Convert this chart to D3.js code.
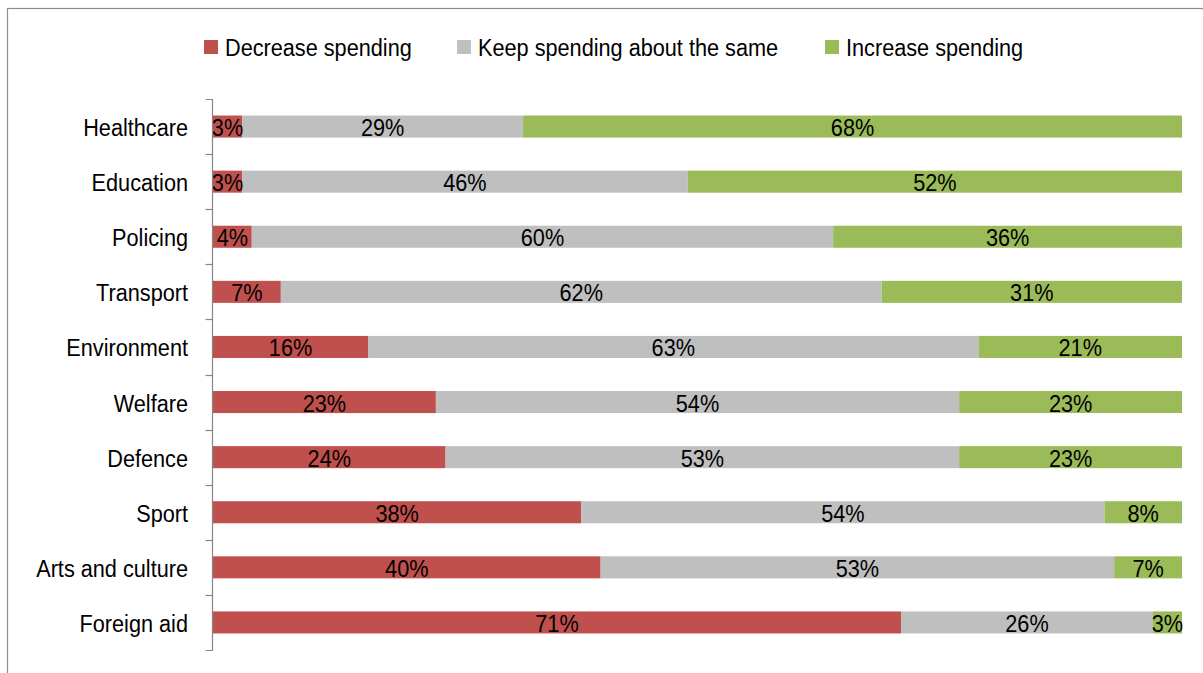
<!DOCTYPE html>
<html>
<head>
<meta charset="utf-8">
<script src="https://cdn.jsdelivr.net/npm/d3@7"></script>
<style>
  html, body { margin: 0; padding: 0; background: #fff; }
  svg { display: block; }
  text { font-family: "Liberation Sans", Arial, sans-serif; fill: #000; }
</style>
</head>
<body>
<svg id="chart" width="1203" height="673"></svg>
<script>
// Survey: should government spending be decreased, kept the same or increased?
const categories = ["Healthcare", "Education", "Policing", "Transport", "Environment",
                    "Welfare", "Defence", "Sport", "Arts and culture", "Foreign aid"];
const seriesNames = ["Decrease spending", "Keep spending about the same", "Increase spending"];
const decrease = [3, 3, 4, 7, 16, 23, 24, 38, 40, 71];
const keepSame = [29, 46, 60, 62, 63, 54, 53, 54, 53, 26];
const increase = [68, 52, 36, 31, 21, 23, 23, 8, 7, 3];
const colors = ["#C0504D", "#BFBFBF", "#9BBB59"];

const svg = d3.select("#chart");
const FS = 24.5, SX = 0.885; // font size and horizontal text scale

// Outer frame
svg.append("rect")
  .attr("x", 7.5).attr("y", 8.5).attr("width", 1400).attr("height", 800)
  .attr("fill", "none").attr("stroke", "#8c8c8c").attr("stroke-width", 1.2);

const x = d3.scaleLinear().domain([0, 100]).range([213, 1182]).clamp(true);
const y = d3.scaleBand().domain(categories).range([99, 650])
  .paddingInner(0.6).paddingOuter(0.3);

const rows = categories.map((c, i) => ({ cat: c, vals: [decrease[i], keepSame[i], increase[i]] }));
const stacked = d3.stack().keys([0, 1, 2]).value((d, k) => d.vals[k])(rows);

function label(sel, xPos, yPos, txt, anchor) {
  sel.append("text")
    .attr("transform", `translate(${xPos},${yPos}) scale(${SX},1)`)
    .attr("text-anchor", anchor)
    .attr("dominant-baseline", "central")
    .attr("font-size", FS)
    .text(txt);
}

// Bars
const layers = svg.append("g").selectAll("g").data(stacked).join("g")
  .attr("fill", (d, i) => colors[i]);
layers.selectAll("rect").data(d => d).join("rect")
  .attr("x", d => x(d[0]))
  .attr("y", d => y(d.data.cat))
  .attr("width", d => x(d[1]) - x(d[0]))
  .attr("height", y.bandwidth());

// Value labels centred in each segment
const lbl = svg.append("g");
stacked.forEach((layer, k) => {
  layer.forEach(d => {
    const cx = (x(d[0]) + x(d[1])) / 2;
    label(lbl, cx, y(d.data.cat) + y.bandwidth() / 2 + 1, d.data.vals[k] + "%", "middle");
  });
});

// Category axis: spine with tick marks on band boundaries
const axis = d3.axisLeft(y).tickSize(0).tickFormat("");
const ax = svg.append("g").attr("transform", "translate(212.5,0)").call(axis);
ax.select(".domain").attr("stroke", "#868686").attr("stroke-width", 1.2)
  .attr("d", "M-7,99.5H0V650.5H-7");
const bounds = categories.slice(1).map(c => y(c) - y.step() * y.paddingInner() / 2);
ax.selectAll("line.bound").data(bounds).join("line")
  .attr("class", "bound")
  .attr("x1", -7).attr("x2", 0)
  .attr("y1", d => Math.round(d) + 0.5).attr("y2", d => Math.round(d) + 0.5)
  .attr("stroke", "#868686").attr("stroke-width", 1.2);

const catLbl = svg.append("g");
categories.forEach(c => label(catLbl, 188, y(c) + y.bandwidth() / 2 + 1, c, "end"));

// Legend
const legendX = [204, 457, 825];
const leg = svg.append("g");
seriesNames.forEach((s, i) => {
  leg.append("rect").attr("x", legendX[i]).attr("y", 40).attr("width", 14).attr("height", 14)
    .attr("fill", colors[i]);
  label(leg, legendX[i] + 21, 48, s, "start");
});
</script>
</body>
</html>
